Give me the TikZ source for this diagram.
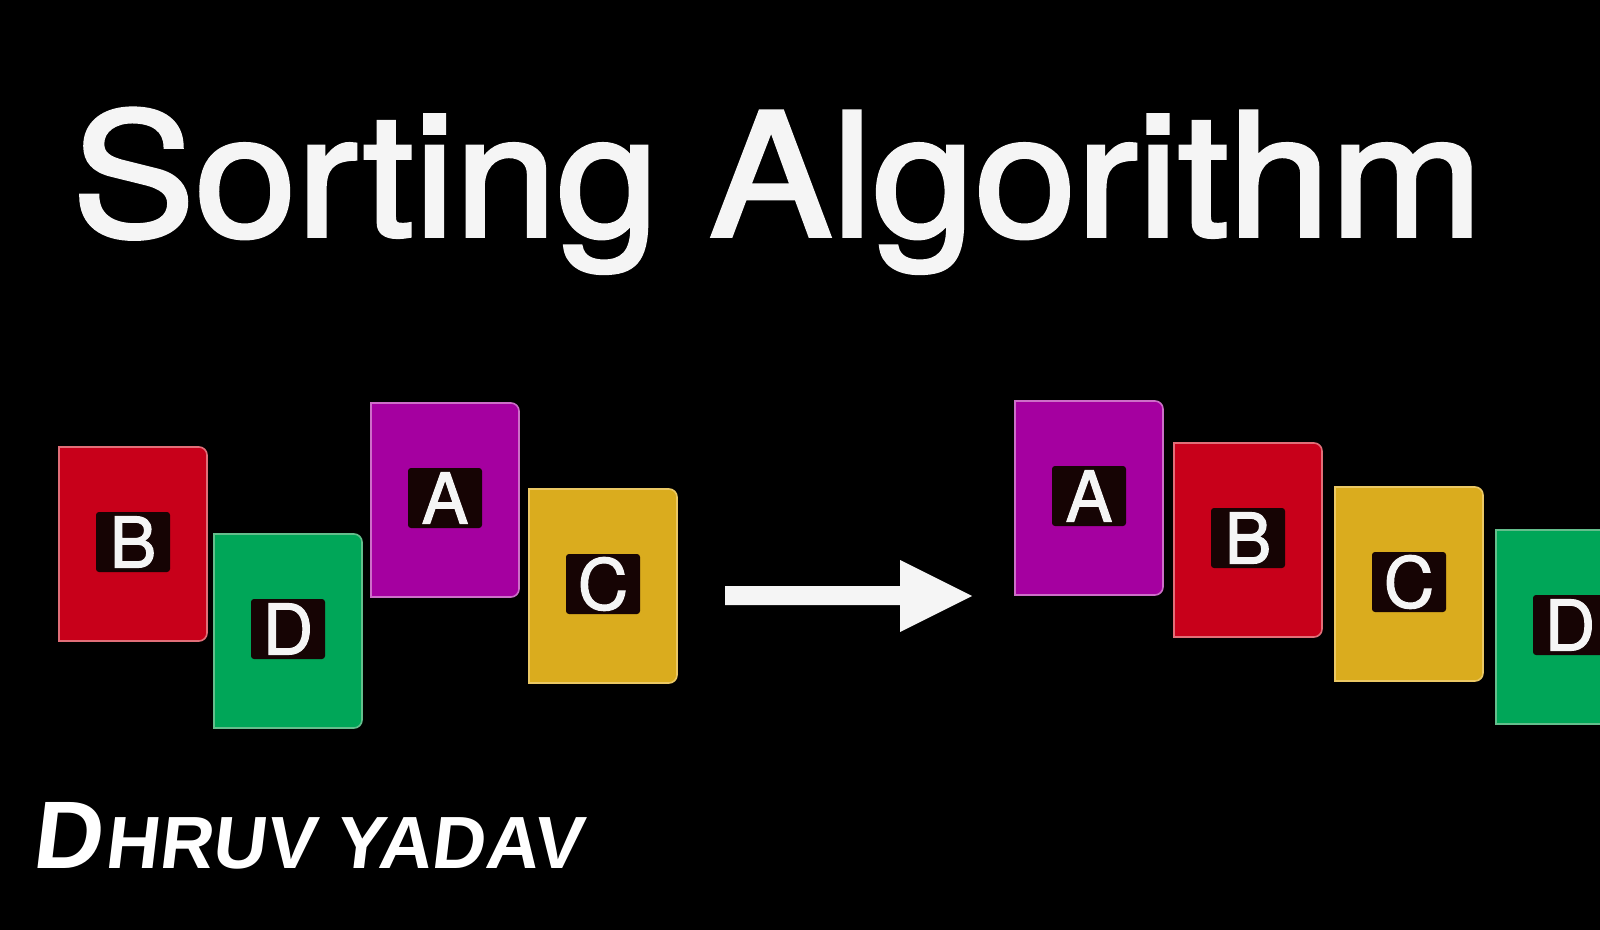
\documentclass[tikz,border=0pt]{standalone}
\usepackage{fontspec}
\setmainfont{Liberation Sans}
\newfontfamily\titlefont[FakeBold=2.2]{TeX Gyre Heros}
\newfontfamily\letterfont[FakeBold=1.6]{TeX Gyre Heros}
\newfontfamily\sigfont[FakeSlant=0.12]{Liberation Sans Bold}
\definecolor{cardred}{RGB}{200,0,26}
\definecolor{cardredb}{RGB}{225,110,120}
\definecolor{cardgreen}{RGB}{0,166,88}
\definecolor{cardgreenb}{RGB}{100,190,140}
\definecolor{cardmag}{RGB}{165,0,160}
\definecolor{cardmagb}{RGB}{205,110,200}
\definecolor{cardyel}{RGB}{218,172,30}
\definecolor{cardyelb}{RGB}{235,200,100}
\definecolor{boxdark}{RGB}{22,4,4}
\definecolor{txtwhite}{RGB}{245,245,245}
\tikzset{
  letterbox/.style={fill=boxdark, rounded corners=1.5pt, minimum width=37pt, minimum height=30pt, inner sep=0pt, text=txtwhite, font=\letterfont\fontsize{35}{40}\selectfont},
  cardshape/.style={line width=0.8pt}
}
\newcommand\sortcard[6]{%
  \draw[cardshape, draw=#5, fill=#4] (#2,#3) [rounded corners=4pt] -- (#2+148,#3) -- (#2+148,#3+194) [sharp corners] -- (#2,#3+194) -- cycle;
  \node[letterbox] (#1) at (#2+74,#3+95) {#6};
}
\begin{document}
\begin{tikzpicture}[x=0.5pt,y=-0.5pt]
\useasboundingbox (0,0) rectangle (1600,930);
\fill[black] (0,0) rectangle (1600,930);
\clip (0,0) rectangle (1600,930);
% title
\node[anchor=base west, inner sep=0pt, text=txtwhite] (title) at (72,236) {\scalebox{1.072}[1]{\titlefont\fontsize{85.5}{100}\selectfont Sorting Algorithm}};
% unsorted cards
\sortcard{lB}{59}{447}{cardred}{cardredb}{B}
\sortcard{lD}{214}{534}{cardgreen}{cardgreenb}{D}
\sortcard{lA}{371}{403}{cardmag}{cardmagb}{A}
\sortcard{lC}{529}{489}{cardyel}{cardyelb}{C}
% arrow
\coordinate (arrS) at (725,595.5);
\coordinate (arrE) at (972,596);
\fill[txtwhite] (arrS) ++(0,-9.5) -- ++(175,0) -- ++(0,-26) -- (arrE) -- (900,632) -- (900,605) -- (725,605) -- cycle;
% sorted cards
\sortcard{rA}{1015}{401}{cardmag}{cardmagb}{A}
\sortcard{rB}{1174}{443}{cardred}{cardredb}{B}
\sortcard{rC}{1335}{487}{cardyel}{cardyelb}{C}
\sortcard{rD}{1496}{530}{cardgreen}{cardgreenb}{D}
% signature
\node[anchor=base west, inner sep=0pt, text=white] (sig) at (31,868) {\sigfont\fontsize{48}{50}\selectfont D\kern2pt\fontsize{37}{40}\selectfont HRUV YADAV};
\end{tikzpicture}
\end{document}
